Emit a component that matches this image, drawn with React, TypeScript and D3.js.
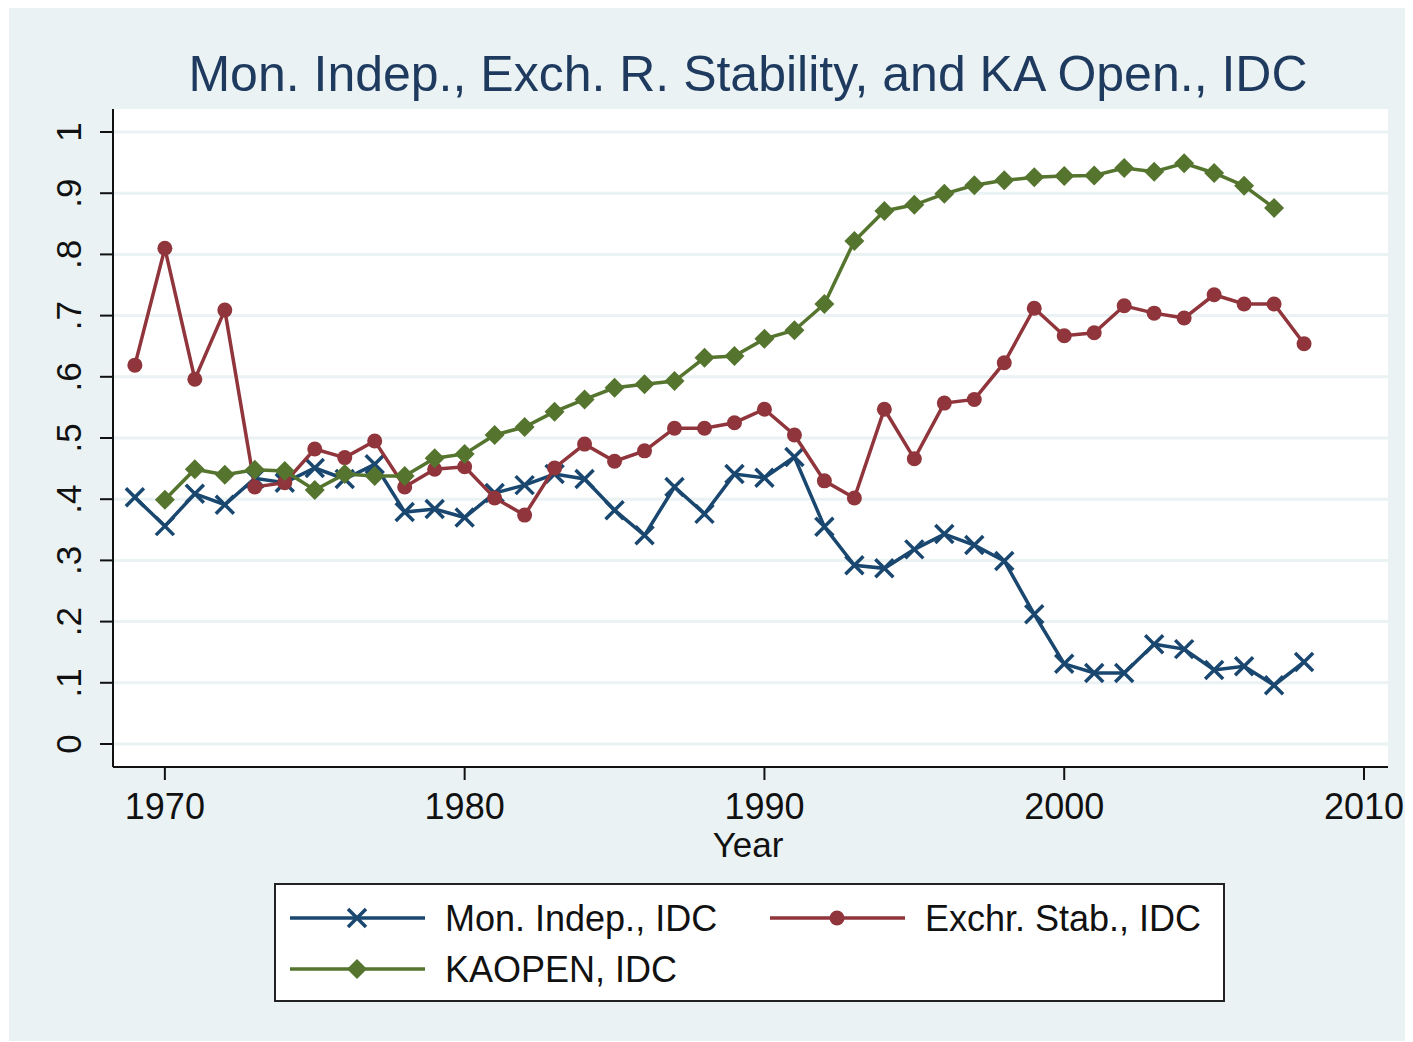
import * as d3 from "d3";

const years = d3.range(1969, 2009);

const monIndep = [
  0.403, 0.356, 0.409, 0.391, 0.434, 0.427, 0.451, 0.433, 0.457, 0.379,
  0.384, 0.370, 0.410, 0.423, 0.441, 0.433, 0.382, 0.341, 0.420, 0.376,
  0.441, 0.435, 0.469, 0.355, 0.292, 0.287, 0.318, 0.343, 0.325, 0.299,
  0.212, 0.131, 0.116, 0.116, 0.163, 0.155, 0.121, 0.127, 0.096, 0.134,
];

const exchStab = [
  0.619, 0.810, 0.596, 0.709, 0.420, 0.427, 0.482, 0.468, 0.495, 0.420,
  0.449, 0.453, 0.402, 0.374, 0.451, 0.490, 0.462, 0.479, 0.516, 0.516,
  0.525, 0.547, 0.505, 0.430, 0.402, 0.547, 0.466, 0.557, 0.563, 0.623,
  0.712, 0.667, 0.672, 0.716, 0.704, 0.696, 0.734, 0.719, 0.719, 0.654,
];

// KAOPEN starts in 1970 and ends in 2007
const kaopen = [
  null, 0.399, 0.449, 0.440, 0.448, 0.446, 0.415, 0.441, 0.438, 0.438,
  0.467, 0.474, 0.505, 0.518, 0.543, 0.563, 0.582, 0.588, 0.593, 0.631,
  0.634, 0.662, 0.676, 0.719, 0.822, 0.871, 0.881, 0.899, 0.913, 0.921,
  0.926, 0.928, 0.929, 0.941, 0.935, 0.949, 0.933, 0.912, 0.876, null,
];

const yTicks = [0, 0.1, 0.2, 0.3, 0.4, 0.5, 0.6, 0.7, 0.8, 0.9, 1];
const yTickLabels = ["0", ".1", ".2", ".3", ".4", ".5", ".6", ".7", ".8", ".9", "1"];
const xTicks = [1970, 1980, 1990, 2000, 2010];

const NAVY = "#1a476f";
const MAROON = "#90353b";
const GREEN = "#55752f";
const BG = "#eaf2f3";
const FONT = "'Liberation Sans', Arial, sans-serif";

type Pt = { year: number; v: number | null };

function Marker({ kind, x, y, color }: { kind: string; x: number; y: number; color: string }) {
  if (kind === "x") {
    const s = 9;
    return (
      <path
        d={`M${x - s},${y - s}L${x + s},${y + s}M${x - s},${y + s}L${x + s},${y - s}`}
        stroke={color}
        strokeWidth={3.5}
      />
    );
  }
  if (kind === "circle") {
    return <circle cx={x} cy={y} r={7.5} fill={color} />;
  }
  const s = 10;
  return <path d={`M${x},${y - s}L${x + s},${y}L${x},${y + s}L${x - s},${y}Z`} fill={color} />;
}

export default function App() {
  const W = 1405;
  const H = 1034;
  // offsets relative to svg (body margin 8)
  const ox = -8;
  const oy = -7;
  const left = 113 + ox;
  const right = 1388 + ox;
  const top = 108 + oy;
  const bottom = 766 + oy;

  const x = d3.scaleLinear([1968.27, 2010.8], [left, right]);
  const y = d3.scaleLinear([-0.0376, 1.0376], [bottom, top]);

  const series = [
    { name: "Mon. Indep., IDC", values: monIndep, color: NAVY, marker: "x" },
    { name: "Exchr. Stab., IDC", values: exchStab, color: MAROON, marker: "circle" },
    { name: "KAOPEN, IDC", values: kaopen, color: GREEN, marker: "diamond" },
  ];

  const line = d3
    .line<Pt>()
    .defined((d) => d.v !== null)
    .x((d) => x(d.year))
    .y((d) => y(d.v as number));

  const legendItems = [
    { ...series[0], lx: 290 + ox, ly: 917 + oy },
    { ...series[1], lx: 770 + ox, ly: 917 + oy },
    { ...series[2], lx: 290 + ox, ly: 968 + oy },
  ];

  return (
    <svg width={W} height={H} style={{ display: "block" }} fontFamily={FONT}>
      <rect x={1} y={0} width={W - 1} height={H - 1} fill={BG} />
      <rect x={left} y={top} width={right - left} height={bottom - top} fill="white" />

      {/* grid */}
      {yTicks.map((t) => (
        <line key={t} x1={left} x2={right} y1={y(t)} y2={y(t)} stroke={BG} strokeWidth={3} />
      ))}

      {/* title */}
      <text x={748 + ox} y={90 + oy} textAnchor="middle" fontSize={50} fill="#1e3a5f">
        Mon. Indep., Exch. R. Stability, and KA Open., IDC
      </text>

      {/* y axis */}
      <line x1={left} x2={left} y1={top} y2={bottom} stroke="#111" strokeWidth={2} />
      {yTicks.map((t, i) => (
        <g key={t}>
          <line x1={left - 13} x2={left} y1={y(t)} y2={y(t)} stroke="#111" strokeWidth={2} />
          <text
            transform={`translate(${81 + ox},${y(t)}) rotate(-90)`}
            textAnchor="middle"
            fontSize={35}
            fill="#111"
          >
            {yTickLabels[i]}
          </text>
        </g>
      ))}

      {/* x axis */}
      <line x1={left} x2={right} y1={bottom} y2={bottom} stroke="#111" strokeWidth={2} />
      {xTicks.map((t) => (
        <g key={t}>
          <line x1={x(t)} x2={x(t)} y1={bottom} y2={bottom + 13} stroke="#111" strokeWidth={2} />
          <text x={x(t)} y={818 + oy} textAnchor="middle" fontSize={36} fill="#111">
            {t}
          </text>
        </g>
      ))}
      <text x={748 + ox} y={856 + oy} textAnchor="middle" fontSize={35} fill="#111">
        Year
      </text>

      {/* series */}
      {series.map((s) => {
        const pts: Pt[] = years.map((yr, i) => ({ year: yr, v: s.values[i] }));
        return (
          <g key={s.name}>
            <path d={line(pts) || undefined} fill="none" stroke={s.color} strokeWidth={3.5} />
            {pts
              .filter((p) => p.v !== null)
              .map((p) => (
                <Marker key={p.year} kind={s.marker} x={x(p.year)} y={y(p.v as number)} color={s.color} />
              ))}
          </g>
        );
      })}

      {/* legend */}
      <rect
        x={275 + ox}
        y={883 + oy}
        width={949}
        height={117}
        fill="white"
        stroke="#222"
        strokeWidth={2}
      />
      {legendItems.map((it) => (
        <g key={it.name}>
          <line x1={it.lx} x2={it.lx + 135} y1={it.ly} y2={it.ly} stroke={it.color} strokeWidth={3.5} />
          <Marker kind={it.marker} x={it.lx + 67} y={it.ly} color={it.color} />
          <text x={it.lx + 155} y={it.ly + 13} fontSize={36} fill="#111">
            {it.name}
          </text>
        </g>
      ))}
    </svg>
  );
}
